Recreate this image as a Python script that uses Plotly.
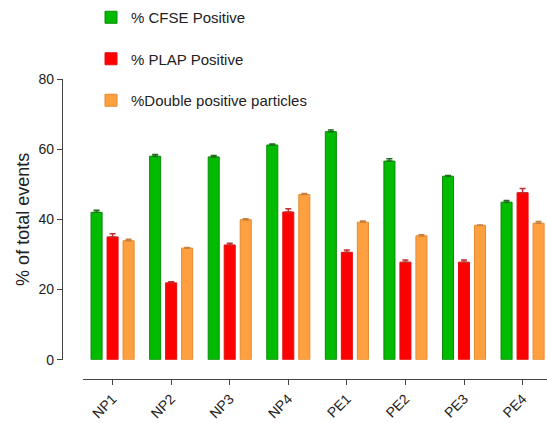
import plotly.graph_objects as go

categories = ["NP1", "NP2", "NP3", "NP4", "PE1", "PE2", "PE3", "PE4"]
cfse = [42.0, 58.0, 57.8, 61.2, 65.0, 56.6, 52.3, 44.9]
cfse_err = [0.6, 0.5, 0.4, 0.3, 0.5, 0.7, 0.2, 0.5]
plap = [35.0, 21.9, 32.7, 42.1, 30.6, 27.8, 27.8, 47.6]
plap_err = [0.9, 0.3, 0.5, 0.9, 0.7, 0.6, 0.6, 1.2]
dbl = [33.9, 31.8, 39.9, 47.1, 39.2, 35.3, 38.3, 38.9]
dbl_err = [0.4, 0.2, 0.3, 0.3, 0.3, 0.3, 0.1, 0.5]
y_ticks = [0, 20, 40, 60, 80]

series = [
    ("% CFSE Positive", cfse, cfse_err, "#00BB00", "#0A8A0A", "#1E6E1E"),
    ("% PLAP Positive", plap, plap_err, "#FF0000", "#E41010", "#C03030"),
    ("%Double positive particles", dbl, dbl_err, "#FFA040", "#E48A2C", "#C88040"),
]

fig = go.Figure()
for i, (name, vals, errs, col, lcol, ecol) in enumerate(series):
    fig.add_trace(go.Bar(
        x=categories, y=vals, name=name, legendgroup=f"g{i}",
        marker=dict(color=col, line=dict(color=lcol, width=1)),
        error_y=dict(type="data", array=errs, arrayminus=[0] * len(errs),
                     symmetric=False, color=ecol, thickness=1.5, width=3),
    ))

fig.update_layout(
    width=547, height=423,
    margin=dict(l=62, r=0, t=79, b=44, autoexpand=False),
    plot_bgcolor="white", paper_bgcolor="white",
    barmode="group", bargap=0.18, bargroupgap=0.31,
    font=dict(family="Liberation Sans, Arial, sans-serif", color="#222222"),
    legend=dict(x=0.0598, y=1.26, xanchor="left", yanchor="top",
                font=dict(size=15), traceorder="grouped", tracegroupgap=19,
                bgcolor="rgba(0,0,0,0)"),
    showlegend=True,
)
fig.update_xaxes(
    domain=[0.0439, 1], range=[-0.5, 7.417],
    anchor="free", position=0,
    showline=True, linecolor="#444444", linewidth=1.3,
    ticks="outside", ticklen=5, tickcolor="#444444", tickwidth=1.3,
    tickangle=-45, tickfont=dict(size=14), showgrid=False, zeroline=False,
    automargin=False,
)
fig.update_yaxes(
    domain=[0.0643, 1], range=[0, 80], tickvals=y_ticks,
    anchor="free", position=0,
    showline=True, linecolor="#444444", linewidth=1.3,
    ticks="outside", ticklen=5, tickcolor="#444444", tickwidth=1.3,
    tickfont=dict(size=14), showgrid=False, zeroline=False,
    title=dict(text="% of total events", font=dict(size=18), standoff=3),
    automargin=False,
)
fig.write_html(
    "out.html",
    config={"displayModeBar": False},
    post_script="document.body.style.margin='0';document.body.style.overflow='hidden';",
)
